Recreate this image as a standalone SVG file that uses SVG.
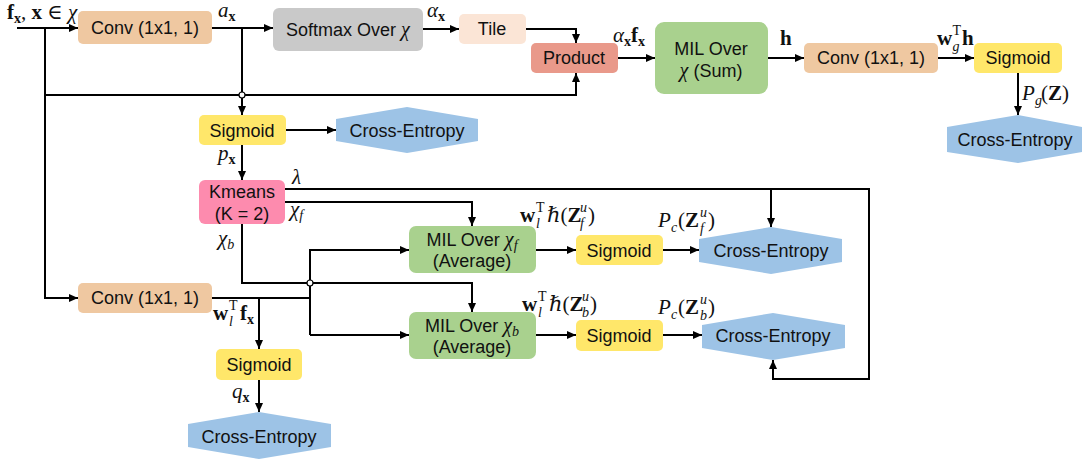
<svg xmlns="http://www.w3.org/2000/svg" width="1084" height="459" viewBox="0 0 1084 459">
<style>
.t{font-family:"Liberation Sans",Arial,sans-serif;font-size:18px;fill:#111;text-anchor:middle}
.m{font-family:"Liberation Serif","DejaVu Serif",serif;font-size:21px;fill:#111}
.i{font-style:italic}
.b{font-weight:bold}
.s{font-size:14px}
.conv{fill:#EFC8A1}
.sig{fill:#FFE76A}
.mil{fill:#A9D18E}
.ce{fill:#9DC3E6}
.ln{fill:none;stroke:#000;stroke-width:2}
.a{marker-end:url(#ah)}
.dot{fill:#fff;stroke:#000;stroke-width:1.2}
</style>
<defs>
<marker id="ah" markerUnits="userSpaceOnUse" markerWidth="10" markerHeight="8" refX="9" refY="4" orient="auto">
<path d="M0,0 L9,4 L0,8 Z" fill="#000"/>
</marker>
</defs>
<rect width="1084" height="459" fill="#fff"/>

<g id="connectors">
<path class="ln a" d="M17,28 H78"/>
<path class="ln a" d="M45,28 V298 H78"/>
<path class="ln a" d="M45,95 H576 V73"/>
<path class="ln a" d="M212,28 H273"/>
<path class="ln a" d="M242,28 V115"/>
<path class="ln a" d="M423,29 H459"/>
<path class="ln a" d="M526,29 H576 V43"/>
<path class="ln a" d="M618,58 H655"/>
<path class="ln a" d="M768,58 H804"/>
<path class="ln a" d="M938,58 H974"/>
<path class="ln a" d="M1018,73 V115"/>
<path class="ln a" d="M286,130 H336"/>
<path class="ln a" d="M242,145 V180"/>
<path class="ln a" d="M285,189 H869 V379 H773 V360"/>
<path class="ln a" d="M771,189 V227"/>
<path class="ln a" d="M285,202 H472 V226"/>
<path class="ln a" d="M242,224 V283 H472 V312"/>
<path class="ln" d="M212,298 H310"/>
<path class="ln a" d="M259,298 V349"/>
<path class="ln a" d="M310,335 V250 H409"/>
<path class="ln a" d="M310,335 H409"/>
<path class="ln a" d="M536,250 H576"/>
<path class="ln a" d="M663,250 H699"/>
<path class="ln a" d="M536,335 H576"/>
<path class="ln a" d="M663,335 H702"/>
<path class="ln a" d="M259,380 V412"/>
<circle class="dot" cx="242" cy="95" r="3"/>
<circle class="dot" cx="310" cy="283" r="3"/>
</g>

<g id="conv1"><rect class="conv" x="78" y="11" width="134" height="33" rx="5"/><text class="t" x="145" y="34">Conv (1x1, 1)</text></g>
<g id="softmax"><rect x="273" y="8" width="150" height="43" rx="6" fill="#C9C9C9"/><text class="t" x="348" y="36">Softmax Over <tspan style="font-family:'Liberation Serif',serif;font-style:italic;font-size:20px">χ</tspan></text></g>
<g id="tile"><rect x="459" y="14" width="67" height="30" rx="5" fill="#FBE5D6"/><text class="t" x="492" y="35">Tile</text></g>
<g id="product"><rect x="531" y="43" width="87" height="30" rx="5" fill="#E9998A"/><text class="t" x="574" y="64">Product</text></g>
<g id="mil_sum"><rect class="mil" x="655" y="22" width="113" height="72" rx="9"/><text class="t" x="711" y="55">MIL Over</text><text class="t" x="711" y="77"><tspan style="font-family:'Liberation Serif',serif;font-style:italic;font-size:20px">χ</tspan> (Sum)</text></g>
<g id="conv2"><rect class="conv" x="804" y="43" width="134" height="30" rx="5"/><text class="t" x="871" y="64">Conv (1x1, 1)</text></g>
<g id="sig_g"><rect class="sig" x="974" y="43" width="88" height="30" rx="5"/><text class="t" x="1018" y="64">Sigmoid</text></g>
<g id="ce_g"><polygon class="ce" points="947,127 1018,115 1082,127 1082,152 1018,163 947,152"/><text class="t" x="1015" y="146">Cross-Entropy</text></g>
<g id="sig_p"><rect class="sig" x="199" y="115" width="87" height="30" rx="5"/><text class="t" x="242" y="137">Sigmoid</text></g>
<g id="ce_p"><polygon class="ce" points="336,119 407,107 478,119 478,141 407,153 336,141"/><text class="t" x="407" y="137">Cross-Entropy</text></g>
<g id="kmeans"><rect x="199" y="180" width="86" height="44" rx="6" fill="#FD8BAE"/><text class="t" x="242" y="198">Kmeans</text><text class="t" x="242" y="220">(K = 2)</text></g>
<g id="mil_f"><rect class="mil" x="409" y="226" width="127" height="47" rx="7"/><text class="t" x="472" y="246">MIL Over <tspan style="font-family:'Liberation Serif',serif;font-style:italic;font-size:20px">χ</tspan><tspan style="font-family:'Liberation Serif',serif;font-style:italic;font-size:14px" dy="4">f</tspan></text><text class="t" x="472" y="267">(Average)</text></g>
<g id="sig_f"><rect class="sig" x="576" y="235" width="87" height="30" rx="5"/><text class="t" x="619" y="257">Sigmoid</text></g>
<g id="ce_f"><polygon class="ce" points="699,239 771,227 842,239 842,262 771,274 699,262"/><text class="t" x="771" y="257">Cross-Entropy</text></g>
<g id="conv3"><rect class="conv" x="78" y="283" width="134" height="30" rx="5"/><text class="t" x="145" y="304">Conv (1x1, 1)</text></g>
<g id="mil_b"><rect class="mil" x="409" y="312" width="127" height="47" rx="7"/><text class="t" x="472" y="332">MIL Over <tspan style="font-family:'Liberation Serif',serif;font-style:italic;font-size:20px">χ</tspan><tspan style="font-family:'Liberation Serif',serif;font-style:italic;font-size:14px" dy="4">b</tspan></text><text class="t" x="472" y="353">(Average)</text></g>
<g id="sig_b"><rect class="sig" x="576" y="320" width="87" height="31" rx="5"/><text class="t" x="619" y="342">Sigmoid</text></g>
<g id="ce_b"><polygon class="ce" points="702,325 773,313 845,325 845,348 773,360 702,348"/><text class="t" x="773" y="342">Cross-Entropy</text></g>
<g id="sig_q"><rect class="sig" x="216" y="349" width="86" height="31" rx="5"/><text class="t" x="259" y="371">Sigmoid</text></g>
<g id="ce_q"><polygon class="ce" points="188,424 259,412 331,424 331,447 259,459 188,447"/><text class="t" x="259" y="443">Cross-Entropy</text></g>

<g id="labels">
<text class="m" x="7" y="19"><tspan class="b">f</tspan><tspan class="b s" dy="4">x</tspan><tspan dy="-4">, </tspan><tspan class="b">x</tspan> ∈ <tspan class="i">χ</tspan></text>
<text class="m" x="218" y="17"><tspan class="i">a</tspan><tspan class="b s" dy="4">x</tspan></text>
<text class="m" x="427" y="17"><tspan class="i">α</tspan><tspan class="b s" dy="4">x</tspan></text>
<text class="m" x="613" y="42"><tspan class="i">α</tspan><tspan class="b s" dy="4">x</tspan><tspan class="b" dy="-4">f</tspan><tspan class="b s" dy="4">x</tspan></text>
<text class="m b" x="780" y="45">h</text>
<text class="m"><tspan class="b" x="937" y="45">w</tspan><tspan class="s" x="952.5" y="35">T</tspan><tspan class="s i" x="952.5" y="51">g</tspan><tspan class="b" x="962" y="45">h</tspan></text>
<text class="m"><tspan class="i" x="1022" y="100">P</tspan><tspan class="s i" x="1035" y="105">g</tspan><tspan x="1041" y="100">(</tspan><tspan class="b">Z</tspan>)</text>
<text class="m" x="218" y="160"><tspan class="i">p</tspan><tspan class="b s" dy="4">x</tspan></text>
<text class="m i" x="292" y="184">λ</text>
<text class="m" x="290" y="216"><tspan class="i">χ</tspan><tspan class="s i" dy="4">f</tspan></text>
<text class="m" x="218" y="245"><tspan class="i">χ</tspan><tspan class="s i" dy="4">b</tspan></text>
<text class="m"><tspan class="b" x="520" y="222">w</tspan><tspan class="s" x="536" y="212">T</tspan><tspan class="s i" x="536" y="228">l</tspan><tspan class="i" x="547" y="222">ℏ</tspan><tspan>(</tspan><tspan class="b">Z</tspan><tspan class="s i" x="580" y="212">u</tspan><tspan class="s i" x="580" y="228">f</tspan><tspan x="588" y="222">)</tspan></text>
<text class="m"><tspan class="i" x="658" y="227">P</tspan><tspan class="s i" x="671" y="232">c</tspan><tspan x="678" y="227">(</tspan><tspan class="b">Z</tspan><tspan class="s i" x="700" y="217">u</tspan><tspan class="s i" x="700" y="233">f</tspan><tspan x="708" y="227">)</tspan></text>
<text class="m"><tspan class="b" x="522" y="311">w</tspan><tspan class="s" x="538" y="301">T</tspan><tspan class="s i" x="538" y="317">l</tspan><tspan class="i" x="549" y="311">ℏ</tspan><tspan>(</tspan><tspan class="b">Z</tspan><tspan class="s i" x="582" y="301">u</tspan><tspan class="s i" x="582" y="317">b</tspan><tspan x="590" y="311">)</tspan></text>
<text class="m"><tspan class="i" x="658" y="314">P</tspan><tspan class="s i" x="671" y="319">c</tspan><tspan x="678" y="314">(</tspan><tspan class="b">Z</tspan><tspan class="s i" x="700" y="304">u</tspan><tspan class="s i" x="700" y="320">b</tspan><tspan x="708" y="314">)</tspan></text>
<text class="m"><tspan class="b" x="213" y="320">w</tspan><tspan class="s" x="229" y="310">T</tspan><tspan class="s i" x="229" y="326">l</tspan><tspan class="b" x="240" y="320">f</tspan><tspan class="b s" x="247" y="324">x</tspan></text>
<text class="m" x="232" y="398"><tspan class="i">q</tspan><tspan class="b s" dy="4">x</tspan></text>
</g>
</svg>
